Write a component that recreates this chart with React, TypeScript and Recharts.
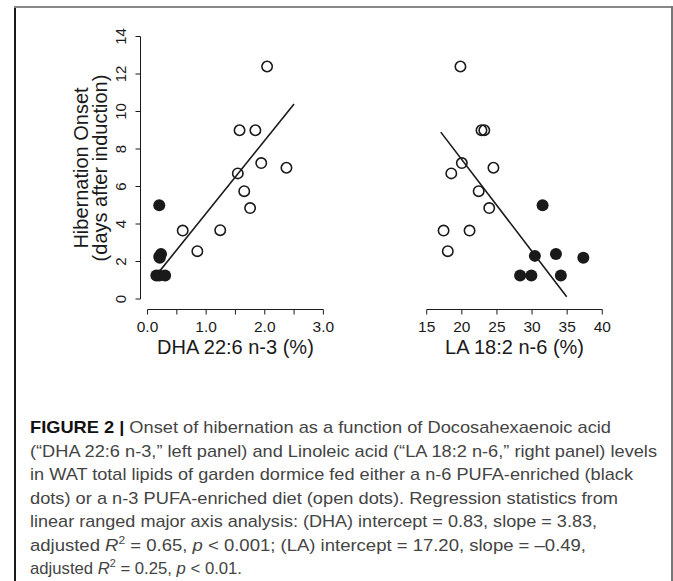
import React from "react";
import { ScatterChart, Scatter, XAxis, YAxis, ReferenceLine } from "recharts";

// ---- data ----
const dhaFilled = [
  { x: 0.2, y: 5.0 },
  { x: 0.2, y: 2.25 },
  { x: 0.23, y: 2.4 },
  { x: 0.21, y: 2.2 },
  { x: 0.15, y: 1.25 },
  { x: 0.2, y: 1.25 },
  { x: 0.3, y: 1.25 },
];
const dhaOpen = [
  { x: 2.04, y: 12.4 },
  { x: 1.57, y: 9.0 },
  { x: 1.84, y: 9.0 },
  { x: 1.94, y: 7.25 },
  { x: 2.37, y: 7.0 },
  { x: 1.54, y: 6.7 },
  { x: 1.65, y: 5.75 },
  { x: 1.75, y: 4.85 },
  { x: 0.6, y: 3.65 },
  { x: 1.24, y: 3.67 },
  { x: 0.85, y: 2.55 },
];
const laFilled = [
  { x: 31.5, y: 5.0 },
  { x: 30.4, y: 2.3 },
  { x: 33.4, y: 2.4 },
  { x: 37.3, y: 2.2 },
  { x: 28.3, y: 1.25 },
  { x: 29.9, y: 1.25 },
  { x: 34.1, y: 1.25 },
];
const laOpen = [
  { x: 19.8, y: 12.4 },
  { x: 22.8, y: 9.0 },
  { x: 23.2, y: 9.0 },
  { x: 20.0, y: 7.25 },
  { x: 18.5, y: 6.7 },
  { x: 24.5, y: 7.0 },
  { x: 22.4, y: 5.75 },
  { x: 23.9, y: 4.85 },
  { x: 17.4, y: 3.65 },
  { x: 21.1, y: 3.65 },
  { x: 18.0, y: 2.55 },
];
// fitted lines (end points as drawn)
const dhaFit = [{ x: 0.2, y: 1.46 }, { x: 2.5, y: 10.4 }];
const laFit = [{ x: 17.0, y: 8.9 }, { x: 34.93, y: 0.12 }];

const yTicks = [0, 2, 4, 6, 8, 10, 12, 14];
const dhaTicks = [0, 0.5, 1, 1.5, 2, 2.5, 3];
const dhaLabelled = [0, 1, 2, 3];
const laTicks = [15, 20, 25, 30, 35, 40];

// R style axis ranges (4% padding)
const Y_DOMAIN: [number, number] = [-0.56, 14.56];
const DHA_DOMAIN: [number, number] = [-0.12, 3.12];
const LA_DOMAIN: [number, number] = [14, 41];

const FONT = "'Liberation Sans', Arial, sans-serif";
const INK = "#1a1a1a";

const OpenDot = (p: any) => (
  <circle cx={p.cx} cy={p.cy} r={5.2} fill="none" stroke={INK} strokeWidth={1.6} />
);
const FilledDot = (p: any) => <circle cx={p.cx} cy={p.cy} r={6} fill={INK} />;

const YTick = ({ x, y, payload }: any) => (
  <text
    x={x}
    y={y}
    transform={`rotate(-90 ${x} ${y})`}
    textAnchor="middle"
    fontSize={15}
    fill={INK}
    fontFamily={FONT}
  >
    {payload.value}
  </text>
);

const xTitle = (text: string) => (props: any) => {
  const vb = props.viewBox;
  return (
    <text
      x={vb.x + vb.width / 2}
      y={vb.y + 44}
      textAnchor="middle"
      fontSize={20}
      fill={INK}
      fontFamily={FONT}
    >
      {text}
    </text>
  );
};

const yTitle = () => (
  <g fontFamily={FONT} fontSize={20} fill={INK}>
    <text x={88} y={168} transform="rotate(-90 88 168)" textAnchor="middle">
      Hibernation Onset
    </text>
    <text x={107} y={168} transform="rotate(-90 107 168)" textAnchor="middle">
      (days after induction)
    </text>
  </g>
);

const tickStyle = { fontSize: 15.5, fill: INK, fontFamily: FONT };
const axisStroke = { stroke: INK, strokeWidth: 1 };

function DhaPanel() {
  return (
    <ScatterChart
      width={340}
      height={390}
      margin={{ top: 26, left: 100.5, right: 9.6, bottom: 40.5 }}
    >
      <XAxis
        type="number"
        dataKey="x"
        domain={DHA_DOMAIN}
        ticks={dhaTicks}
        allowDataOverflow
        axisLine={false}
        tickLine={axisStroke}
        tickSize={5}
        tickMargin={6}
        height={40}
        interval={0}
        tick={tickStyle}
        tickFormatter={(v: number) => (dhaLabelled.includes(v) ? v.toFixed(1) : "")}
        label={{ content: xTitle("DHA 22:6 n-3 (%)") }}
      />
      <YAxis
        type="number"
        dataKey="y"
        domain={Y_DOMAIN}
        ticks={yTicks}
        allowDataOverflow
        axisLine={false}
        tickLine={axisStroke}
        tickSize={5}
        tickMargin={10}
        width={40}
        interval={0}
        tick={<YTick />}
        label={{ content: yTitle }}
      />
      <ReferenceLine
        segment={[{ x: 0, y: Y_DOMAIN[0] }, { x: 3, y: Y_DOMAIN[0] }]}
        stroke={INK}
        ifOverflow="visible"
      />
      <ReferenceLine
        segment={[{ x: DHA_DOMAIN[0], y: 0 }, { x: DHA_DOMAIN[0], y: 14 }]}
        stroke={INK}
        ifOverflow="visible"
      />
      <Scatter data={dhaFilled} shape={FilledDot} isAnimationActive={false} />
      <Scatter data={dhaOpen} shape={OpenDot} isAnimationActive={false} />
      <ReferenceLine segment={dhaFit} stroke={INK} strokeWidth={1.6} ifOverflow="visible" />
    </ScatterChart>
  );
}

function LaPanel() {
  return (
    <ScatterChart
      width={260}
      height={390}
      margin={{ top: 26, left: 39.7, right: 30.7, bottom: 40.5 }}
    >
      <XAxis
        type="number"
        dataKey="x"
        domain={LA_DOMAIN}
        ticks={laTicks}
        allowDataOverflow
        axisLine={false}
        tickLine={axisStroke}
        tickSize={5}
        tickMargin={6}
        height={40}
        interval={0}
        tick={tickStyle}
        label={{ content: xTitle("LA 18:2 n-6 (%)") }}
      />
      <YAxis type="number" dataKey="y" domain={Y_DOMAIN} allowDataOverflow hide />
      <ReferenceLine
        segment={[{ x: 15, y: Y_DOMAIN[0] }, { x: 40, y: Y_DOMAIN[0] }]}
        stroke={INK}
        ifOverflow="visible"
      />
      <Scatter data={laFilled} shape={FilledDot} isAnimationActive={false} />
      <Scatter data={laOpen} shape={OpenDot} isAnimationActive={false} />
      <ReferenceLine segment={laFit} stroke={INK} strokeWidth={1.6} ifOverflow="visible" />
    </ScatterChart>
  );
}

const CAP = "'Liberation Sans', Arial, sans-serif";
const capLines = [
  "(\u201CDHA 22:6 n-3,\u201D left panel) and Linoleic acid (\u201CLA 18:2 n-6,\u201D right panel) levels",
  "in WAT total lipids of garden dormice fed either a n-6 PUFA-enriched (black",
  "dots) or a n-3 PUFA-enriched diet (open dots). Regression statistics from",
  "linear ranged major axis analysis: (DHA) intercept = 0.83, slope = 3.83,",
];
const capWidths = [581, 627, 603, 588, 567, 556, 212];
const CAP_Y0 = 433;
const CAP_DY = 23.5;

function Caption() {
  const y = (i: number) => CAP_Y0 + i * CAP_DY;
  const common = {
    x: 30,
    fontSize: 17,
    fill: "#444",
    fontFamily: CAP,
    lengthAdjust: "spacingAndGlyphs" as const,
  };
  return (
    <svg width={673} height={581} style={{ position: "absolute", left: 0, top: 0 }}>
      <text {...common} y={y(0)} textLength={capWidths[0]}>
        <tspan fontWeight="bold" fill="#111">FIGURE 2 |</tspan> Onset of hibernation as a
        function of Docosahexaenoic acid
      </text>
      {capLines.map((t, i) => (
        <text key={i} {...common} y={y(i + 1)} textLength={capWidths[i + 1]}>
          {t}
        </text>
      ))}
      <text {...common} y={y(5)} textLength={capWidths[5]}>
        adjusted <tspan fontStyle="italic">R</tspan>
        <tspan fontSize={11} dy={-7}>2</tspan>
        <tspan dy={7}>{" = 0.65, "}</tspan>
        <tspan fontStyle="italic">p</tspan>
        {" < 0.001; (LA) intercept = 17.20, slope = \u20130.49,"}
      </text>
      <text {...common} y={y(6)} textLength={capWidths[6]}>
        adjusted <tspan fontStyle="italic">R</tspan>
        <tspan fontSize={11} dy={-7}>2</tspan>
        <tspan dy={7}>{" = 0.25, "}</tspan>
        <tspan fontStyle="italic">p</tspan>
        {" < 0.01."}
      </text>
    </svg>
  );
}

export default function App() {
  return (
    <div
      style={{
        position: "absolute",
        left: 0,
        top: 0,
        width: 673,
        height: 581,
        background: "#fff",
        overflow: "hidden",
      }}
    >
      <div style={{ position: "absolute", left: 13.5, top: 6, width: 2, height: 580, background: "#1a1a1a" }} />
      <div style={{ position: "absolute", left: 14, top: 6, width: 658, height: 1.5, background: "#888" }} />
      <div style={{ position: "absolute", left: 670.5, top: 6, width: 2, height: 580, background: "#777" }} />
      <div style={{ position: "absolute", left: 0, top: 0 }}>
        <DhaPanel />
      </div>
      <div style={{ position: "absolute", left: 380, top: 0 }}>
        <LaPanel />
      </div>
      <Caption />
    </div>
  );
}
